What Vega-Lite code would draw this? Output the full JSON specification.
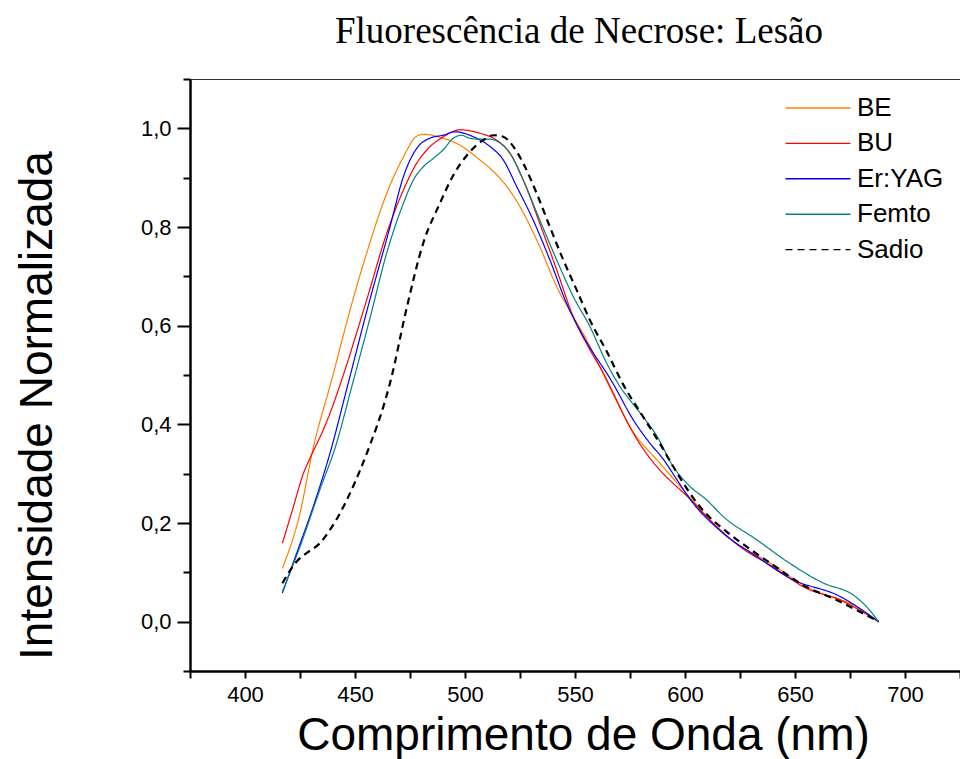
{
  "$schema": "https://vega.github.io/schema/vega-lite/v6.json",
  "width": 770,
  "height": 592,
  "autosize": "none",
  "padding": {"left": 190, "top": 79, "right": 0, "bottom": 88},
  "background": "white",
  "config": {"view": {"stroke": "#333333", "strokeWidth": 1}, "font": "Liberation Sans"},
  "title": {"text": "Fluorescência de Necrose: Lesão", "font": "Liberation Serif", "fontSize": 37, "fontWeight": "normal", "color": "black", "anchor": "middle", "offset": 17, "dx": 4},
  "data": {"values": [
    {"s":"BE","x":417,"y":0.108},{"s":"BE","x":425,"y":0.22},{"s":"BE","x":431,"y":0.352},{"s":"BE","x":439.4,"y":0.49},{"s":"BE","x":449,"y":0.652},{"s":"BE","x":455.3,"y":0.747},{"s":"BE","x":464.4,"y":0.868},{"s":"BE","x":472,"y":0.942},{"s":"BE","x":478,"y":0.984},{"s":"BE","x":481,"y":0.988},{"s":"BE","x":490,"y":0.98},{"s":"BE","x":495,"y":0.972},{"s":"BE","x":502,"y":0.953},{"s":"BE","x":507,"y":0.935},{"s":"BE","x":511.4,"y":0.919},{"s":"BE","x":519,"y":0.882},{"s":"BE","x":525,"y":0.841},{"s":"BE","x":534,"y":0.76},{"s":"BE","x":541.7,"y":0.679},{"s":"BE","x":549,"y":0.62},{"s":"BE","x":556,"y":0.565},{"s":"BE","x":562,"y":0.51},{"s":"BE","x":568,"y":0.455},{"s":"BE","x":575,"y":0.395},{"s":"BE","x":588.6,"y":0.321},{"s":"BE","x":594.7,"y":0.29},{"s":"BE","x":602,"y":0.253},{"s":"BE","x":617.4,"y":0.179},{"s":"BE","x":640,"y":0.115},{"s":"BE","x":655,"y":0.071},{"s":"BE","x":678,"y":0.03},{"s":"BE","x":688,"y":0.0},
    {"s":"BU","x":417,"y":0.159},{"s":"BU","x":422,"y":0.233},{"s":"BU","x":426.5,"y":0.3},{"s":"BU","x":429.5,"y":0.331},{"s":"BU","x":435.6,"y":0.389},{"s":"BU","x":438.6,"y":0.422},{"s":"BU","x":443.2,"y":0.48},{"s":"BU","x":455.3,"y":0.652},{"s":"BU","x":464.4,"y":0.787},{"s":"BU","x":472,"y":0.875},{"s":"BU","x":478,"y":0.929},{"s":"BU","x":482.6,"y":0.956},{"s":"BU","x":490.2,"y":0.983},{"s":"BU","x":497.7,"y":0.997},{"s":"BU","x":506.8,"y":0.99},{"s":"BU","x":514.4,"y":0.976},{"s":"BU","x":520.5,"y":0.949},{"s":"BU","x":526.5,"y":0.895},{"s":"BU","x":534,"y":0.807},{"s":"BU","x":541.7,"y":0.713},{"s":"BU","x":549.2,"y":0.618},{"s":"BU","x":556.8,"y":0.551},{"s":"BU","x":563,"y":0.503},{"s":"BU","x":566,"y":0.476},{"s":"BU","x":576.5,"y":0.382},{"s":"BU","x":588.6,"y":0.307},{"s":"BU","x":594.7,"y":0.28},{"s":"BU","x":602,"y":0.25},{"s":"BU","x":609.8,"y":0.213},{"s":"BU","x":625,"y":0.152},{"s":"BU","x":640,"y":0.111},{"s":"BU","x":655,"y":0.068},{"s":"BU","x":670.5,"y":0.044},{"s":"BU","x":688,"y":0.0},
    {"s":"Er:YAG","x":417,"y":0.058},{"s":"Er:YAG","x":423.5,"y":0.139},{"s":"Er:YAG","x":431,"y":0.233},{"s":"Er:YAG","x":438.6,"y":0.341},{"s":"Er:YAG","x":446.5,"y":0.476},{"s":"Er:YAG","x":456,"y":0.64},{"s":"Er:YAG","x":465.9,"y":0.8},{"s":"Er:YAG","x":472,"y":0.902},{"s":"Er:YAG","x":478,"y":0.959},{"s":"Er:YAG","x":484,"y":0.98},{"s":"Er:YAG","x":490,"y":0.986},{"s":"Er:YAG","x":495.5,"y":0.993},{"s":"Er:YAG","x":503.8,"y":0.983},{"s":"Er:YAG","x":511.4,"y":0.963},{"s":"Er:YAG","x":517.4,"y":0.936},{"s":"Er:YAG","x":523.5,"y":0.882},{"s":"Er:YAG","x":531,"y":0.814},{"s":"Er:YAG","x":538.6,"y":0.733},{"s":"Er:YAG","x":546.2,"y":0.645},{"s":"Er:YAG","x":553.8,"y":0.578},{"s":"Er:YAG","x":567,"y":0.485},{"s":"Er:YAG","x":576.5,"y":0.409},{"s":"Er:YAG","x":584,"y":0.362},{"s":"Er:YAG","x":590,"y":0.33},{"s":"Er:YAG","x":596,"y":0.29},{"s":"Er:YAG","x":602,"y":0.25},{"s":"Er:YAG","x":617.4,"y":0.179},{"s":"Er:YAG","x":632.6,"y":0.132},{"s":"Er:YAG","x":647.7,"y":0.088},{"s":"Er:YAG","x":670.5,"y":0.051},{"s":"Er:YAG","x":688,"y":0.0},
    {"s":"Femto","x":417,"y":0.061},{"s":"Femto","x":425,"y":0.152},{"s":"Femto","x":434,"y":0.267},{"s":"Femto","x":441.5,"y":0.36},{"s":"Femto","x":448.5,"y":0.476},{"s":"Femto","x":456.8,"y":0.615},{"s":"Femto","x":464.4,"y":0.747},{"s":"Femto","x":472,"y":0.848},{"s":"Femto","x":476.5,"y":0.895},{"s":"Femto","x":481,"y":0.922},{"s":"Femto","x":485.6,"y":0.939},{"s":"Femto","x":490,"y":0.956},{"s":"Femto","x":494.7,"y":0.98},{"s":"Femto","x":498.5,"y":0.986},{"s":"Femto","x":502,"y":0.98},{"s":"Femto","x":507,"y":0.978},{"s":"Femto","x":511.4,"y":0.978},{"s":"Femto","x":516,"y":0.97},{"s":"Femto","x":520.5,"y":0.949},{"s":"Femto","x":526.5,"y":0.895},{"s":"Femto","x":534,"y":0.814},{"s":"Femto","x":541.7,"y":0.733},{"s":"Femto","x":549.2,"y":0.659},{"s":"Femto","x":556.8,"y":0.598},{"s":"Femto","x":564.4,"y":0.524},{"s":"Femto","x":570.5,"y":0.476},{"s":"Femto","x":575,"y":0.449},{"s":"Femto","x":581,"y":0.415},{"s":"Femto","x":587,"y":0.378},{"s":"Femto","x":594.7,"y":0.314},{"s":"Femto","x":602.3,"y":0.274},{"s":"Femto","x":609.8,"y":0.247},{"s":"Femto","x":617.4,"y":0.213},{"s":"Femto","x":632.6,"y":0.166},{"s":"Femto","x":647.7,"y":0.118},{"s":"Femto","x":663,"y":0.078},{"s":"Femto","x":676.5,"y":0.054},{"s":"Femto","x":682.6,"y":0.03},{"s":"Femto","x":688,"y":0.0},
    {"s":"Sadio","x":417,"y":0.078},{"s":"Sadio","x":423.5,"y":0.122},{"s":"Sadio","x":428,"y":0.139},{"s":"Sadio","x":434,"y":0.159},{"s":"Sadio","x":438.6,"y":0.186},{"s":"Sadio","x":443.2,"y":0.22},{"s":"Sadio","x":447.7,"y":0.26},{"s":"Sadio","x":452.3,"y":0.307},{"s":"Sadio","x":456.8,"y":0.358},{"s":"Sadio","x":462.9,"y":0.436},{"s":"Sadio","x":466,"y":0.485},{"s":"Sadio","x":473.5,"y":0.636},{"s":"Sadio","x":481,"y":0.767},{"s":"Sadio","x":488.6,"y":0.848},{"s":"Sadio","x":494.7,"y":0.905},{"s":"Sadio","x":500.8,"y":0.945},{"s":"Sadio","x":508.3,"y":0.976},{"s":"Sadio","x":512.9,"y":0.986},{"s":"Sadio","x":517.4,"y":0.983},{"s":"Sadio","x":522,"y":0.963},{"s":"Sadio","x":526.5,"y":0.929},{"s":"Sadio","x":532.6,"y":0.868},{"s":"Sadio","x":538.6,"y":0.8},{"s":"Sadio","x":544.7,"y":0.733},{"s":"Sadio","x":550.8,"y":0.672},{"s":"Sadio","x":556.8,"y":0.611},{"s":"Sadio","x":564.4,"y":0.548},{"s":"Sadio","x":572,"y":0.48},{"s":"Sadio","x":581,"y":0.415},{"s":"Sadio","x":588.3,"y":0.363},{"s":"Sadio","x":594.7,"y":0.314},{"s":"Sadio","x":602.3,"y":0.26},{"s":"Sadio","x":606.8,"y":0.233},{"s":"Sadio","x":619,"y":0.182},{"s":"Sadio","x":628,"y":0.152},{"s":"Sadio","x":640,"y":0.115},{"s":"Sadio","x":655,"y":0.071},{"s":"Sadio","x":667.4,"y":0.047},{"s":"Sadio","x":679.5,"y":0.02},{"s":"Sadio","x":688,"y":0.0}
  ]},
  "mark": {"type": "line", "interpolate": "monotone", "clip": true},
  "encoding": {
    "x": {
      "field": "x", "type": "quantitative",
      "scale": {"domain": [375, 725], "nice": false, "zero": false},
      "axis": {
        "values": [375, 400, 425, 450, 475, 500, 525, 550, 575, 600, 625, 650, 675, 700, 725],
        "format": "d",
        "labelExpr": "datum.value % 50 == 0 ? datum.label : ''",
        "title": "Comprimento de Onda (nm)",
        "titleFont": "Liberation Sans", "titleFontSize": 46, "titleFontWeight": "normal", "titleColor": "black",
        "titleBaseline": "alphabetic", "titleX": 393, "titleY": 78, "titleAnchor": "middle",
        "labelFont": "Liberation Sans", "labelFontSize": 22, "labelColor": "black", "labelPadding": 6,
        "labelFlush": false, "labelOverlap": false,
        "domainColor": "black", "domainWidth": 2.5,
        "tickColor": "black", "tickWidth": 2, "tickSize": 7,
        "grid": false
      }
    },
    "y": {
      "field": "y", "type": "quantitative",
      "scale": {"domain": [-0.1, 1.1], "nice": false, "zero": false},
      "axis": {
        "values": [-0.1, 0, 0.1, 0.2, 0.3, 0.4, 0.5, 0.6, 0.7, 0.8, 0.9, 1.0, 1.1],
        "labelExpr": "(abs(round(datum.value*10)) % 2 == 0 && datum.value > -0.05 && datum.value < 1.05) ? replace(format(datum.value, '.1f'), '.', ',') : ''",
        "title": "Intensidade Normalizada",
        "titleFont": "Liberation Sans", "titleFontSize": 46, "titleFontWeight": "normal", "titleColor": "black",
        "titleAngle": 270, "titleBaseline": "alphabetic", "titleAlign": "center",
        "titleX": -139, "titleY": 326,
        "labelFont": "Liberation Sans", "labelFontSize": 22, "labelColor": "black", "labelPadding": 6,
        "labelFlush": false, "labelOverlap": false,
        "domainColor": "black", "domainWidth": 2.5,
        "tickColor": "black", "tickWidth": 2,
        "tickSize": {"condition": {"test": "abs(round(datum.value*10)) % 2 == 0 && datum.value > -0.05 && datum.value < 1.05", "value": 13}, "value": 7},
        "grid": false
      }
    },
    "color": {
      "field": "s", "type": "nominal",
      "scale": {"domain": ["BE", "BU", "Er:YAG", "Femto", "Sadio"], "range": ["#FF8000", "#FF0000", "#0000FF", "#008080", "#000000"]},
      "legend": {
        "title": null, "orient": "none", "legendX": 615, "legendY": 16,
        "symbolType": "M-4,0H4", "symbolSize": 264, "symbolStrokeWidth": 1.4, "symbolFillColor": "transparent",
        "labelFont": "Liberation Sans", "labelFontSize": 26, "labelColor": "black", "labelOffset": 26,
        "rowPadding": 9.4
      }
    },
    "strokeDash": {
      "field": "s", "type": "nominal",
      "scale": {"domain": ["BE", "BU", "Er:YAG", "Femto", "Sadio"], "range": [[1, 0], [1, 0], [1, 0], [1, 0], [7, 5]]}
    },
    "strokeWidth": {"condition": {"test": "datum.s == 'Sadio'", "value": 2.2}, "value": 1.2}
  }
}
